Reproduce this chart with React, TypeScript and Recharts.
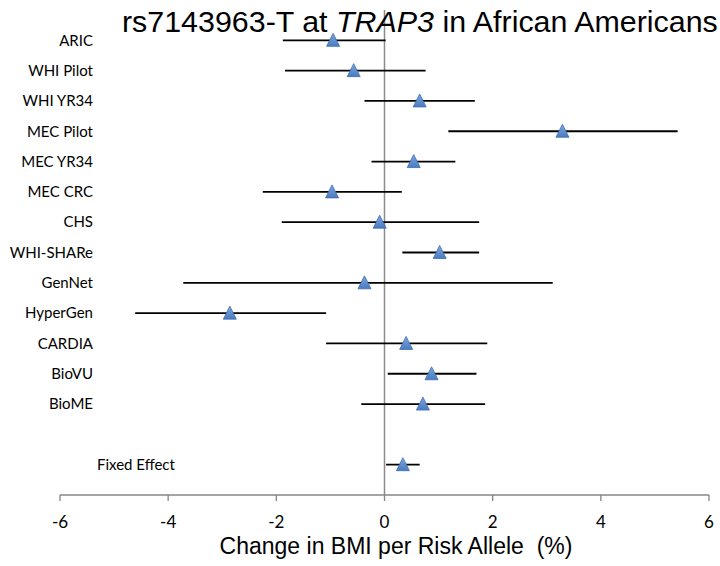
import React from "react";
import {
  ScatterChart, Scatter, XAxis, YAxis, ErrorBar, ReferenceLine
} from "recharts";

// cohorts, top to bottom
const labels = [
  "ARIC", "WHI Pilot", "WHI YR34", "MEC Pilot", "MEC YR34", "MEC CRC", "CHS",
  "WHI-SHARe", "GenNet", "HyperGen", "CARDIA", "BioVU", "BioME", "Fixed Effect",
];
// row slot on the vertical axis (gap left between BioME and Fixed Effect)
const rowPos = [15, 14, 13, 12, 11, 10, 9, 8, 7, 6, 5, 4, 3, 1];

// change in BMI per risk allele (%) and its 95% CI
const estimates = [-0.95, -0.57, 0.65, 3.29, 0.54, -0.97, -0.09, 1.02, -0.37, -2.86, 0.4, 0.87, 0.71, 0.34];
const lower = [-1.88, -1.84, -0.37, 1.18, -0.24, -2.25, -1.9, 0.33, -3.72, -4.61, -1.08, 0.06, -0.43, 0.03];
const upper = [0.02, 0.76, 1.67, 5.42, 1.31, 0.32, 1.75, 1.75, 3.11, -1.08, 1.9, 1.7, 1.86, 0.65];

const xTicks = [-6, -4, -2, 0, 2, 4, 6];

const data = labels.map((name, i) => ({
  name,
  y: rowPos[i],
  x: estimates[i],
  ci: [estimates[i] - lower[i], upper[i] - estimates[i]],
}));

const labelFont = "Lato, 'Open Sans', sans-serif";

function Triangle(props: any) {
  const { cx, cy } = props;
  if (cx == null || cy == null) return null;
  return (
    <path
      d={`M${cx},${cy - 7} L${cx + 6.5},${cy + 6} L${cx - 6.5},${cy + 6} Z`}
      fill="url(#triFill)"
      stroke="#3d6db0"
      strokeWidth={0.8}
    />
  );
}

const renderRowLabel = (props: any) => {
  const { x, y, payload } = props;
  const name = labels[rowPos.indexOf(payload.value)];
  const isPooled = name === "Fixed Effect";
  return (
    <text
      x={isPooled ? x + 37 : x + 33}
      y={y}
      dy="0.35em"
      textAnchor={isPooled ? "start" : "end"}
      style={{ fontFamily: labelFont, fontSize: 15, fill: "#000" }}
    >
      {name}
    </text>
  );
};

const renderXTick = (props: any) => {
  const { x, y, payload } = props;
  return (
    <text
      x={x}
      y={y}
      dy={23}
      textAnchor="middle"
      style={{ fontFamily: labelFont, fontSize: 17, fill: "#000" }}
    >
      {payload.value}
    </text>
  );
};

export default function App() {
  return (
    <div style={{ position: "absolute", left: 0, top: 0, width: 720, height: 566, background: "#fff" }}>
      <ScatterChart width={720} height={566} margin={{ top: 10, right: 11, bottom: 0, left: 59 }}>
        <defs>
          <linearGradient id="triFill" x1="0" y1="0" x2="0" y2="1">
            <stop offset="0%" stopColor="#7ea6dc" />
            <stop offset="100%" stopColor="#4a7cc2" />
          </linearGradient>
        </defs>
        <XAxis
          type="number"
          dataKey="x"
          domain={[-6, 6]}
          ticks={xTicks}
          height={71}
          allowDataOverflow
          stroke="#868686"
          strokeWidth={1.3}
          tickSize={6}
          tickMargin={4}
          tick={renderXTick}
        />
        <YAxis
          type="number"
          dataKey="y"
          domain={[0, 16]}
          ticks={rowPos}
          width={1}
          axisLine={false}
          tickLine={false}
          tickSize={0}
          tickMargin={0}
          tick={renderRowLabel}
          interval={0}
        />
        <ReferenceLine x={0} stroke="#8c8c8c" strokeWidth={1.5} />
        <Scatter data={data} shape={<Triangle />} isAnimationActive={false}>
          <ErrorBar dataKey="ci" direction="x" width={0} stroke="#000" strokeWidth={1.8} />
        </Scatter>
      </ScatterChart>
      <div
        style={{
          position: "absolute",
          left: 122,
          top: 4,
          fontFamily: "'Liberation Sans', Arial, sans-serif",
          fontSize: 30.4,
          whiteSpace: "pre",
          color: "#000",
        }}
      >
        rs7143963-T at <i>TRAP3</i> in African Americans
      </div>
      <div
        style={{
          position: "absolute",
          left: 0,
          width: 792,
          top: 533,
          textAlign: "center",
          fontFamily: "'Liberation Sans', Arial, sans-serif",
          fontSize: 23,
          whiteSpace: "pre",
          color: "#000",
        }}
      >
        Change in BMI per Risk Allele  (%)
      </div>
    </div>
  );
}
